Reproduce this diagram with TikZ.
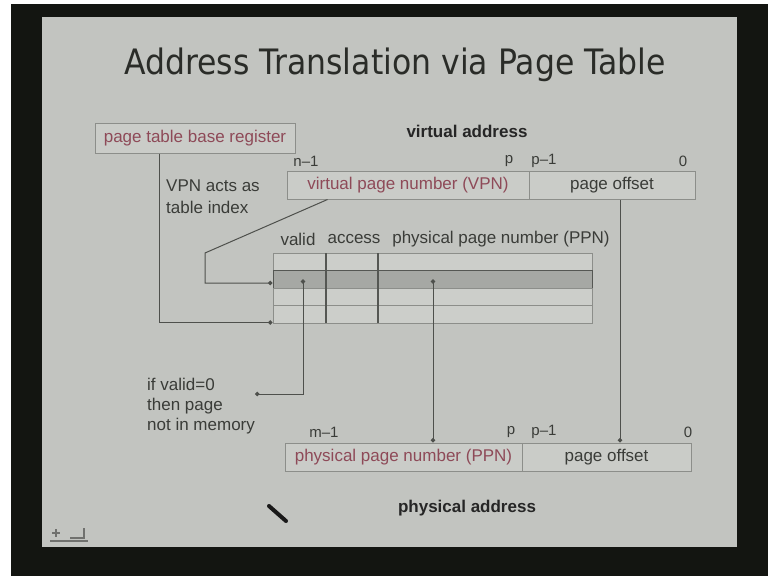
\documentclass[tikz,border=0pt]{standalone}
\usepackage{fontspec}
\setmainfont{Liberation Sans}
\newfontfamily\titlefont{DejaVu Sans}
\usetikzlibrary{arrows.meta,calc}

\definecolor{frame}{HTML}{131511}
\definecolor{slide}{HTML}{C2C4C0}
\definecolor{boxfill}{HTML}{CACCC8}
\definecolor{boxline}{HTML}{8C8E8A}
\definecolor{ink}{HTML}{3A3C38}
\definecolor{titleink}{HTML}{2A2C28}
\definecolor{redink}{HTML}{8E4A58}
\definecolor{rowfill}{HTML}{CCCECA}
\definecolor{rowdark}{HTML}{A6A8A4}
\definecolor{wire}{HTML}{4E504C}
\definecolor{colline}{HTML}{555753}

\begin{document}
\begin{tikzpicture}[x=1pt,y=-1pt,
  txt/.style={font=\fontsize{17}{20}\selectfont, text=ink, inner sep=0pt},
  boldtxt/.style={font=\bfseries\fontsize{17}{20}\selectfont, text=black!85, inner sep=0pt},
  fieldbox/.style={draw=boxline, fill=boxfill, line width=1pt, minimum height=28pt,
                   inner sep=0pt, font=\fontsize{17}{20}\selectfont},
  bitlabel/.style={font=\fontsize{15}{18}\selectfont, text=ink, inner sep=0pt},
  tablerow/.style={draw=boxline, fill=rowfill, line width=1pt, minimum width=319pt,
                   minimum height=17.5pt, inner sep=0pt},
  wireline/.style={draw=wire, line width=1pt},
  tip/.style={-{Circle[length=4.5pt]}},
  dottip/.style={{Circle[length=4.5pt]}-{Circle[length=4.5pt]}}
]
\useasboundingbox (0,0) rectangle (768,576);

% screen, dark frame and slide
\fill[white] (0,0) rectangle (768,576);
\fill[frame] (11,4) rectangle (768,576);
\fill[slide] (42,17) rectangle (737,547);

% title
\node[font=\titlefont\fontsize{35}{40}\selectfont, text=titleink, inner sep=0pt]
  (title) at (395,65) {\scalebox{0.9}[1]{Address Translation via Page Table}};

% page table base register
\node[fieldbox, minimum width=200pt, minimum height=30pt, text=redink]
  (ptbr) at (195,138) {page table base register};

% virtual address
\node[boldtxt] (vatitle) at (467,131) {virtual address};
\node[fieldbox, minimum width=242pt, text=redink] (vpn) at (408,185) {virtual page number (VPN)};
\node[fieldbox, minimum width=166pt, text=ink] (voff) at (612,185) {page offset};
\node[bitlabel] (vn1) at (306,161) {n\textendash 1};
\node[bitlabel] (vp)  at (509,161) {p};
\node[bitlabel] (vp1) at (544,161) {p\textendash 1};
\node[bitlabel] (v0)  at (683,161) {0};

\node[txt, anchor=west] (idx1) at (166,186) {VPN acts as};
\node[txt, anchor=west] (idx2) at (166,207) {table index};

% page table
\node[txt] (hvalid) at (298,239) {valid};
\node[txt] (hacc)   at (354,239) {access};
\node[txt] (hppn)   at (501,239) {physical page number (PPN)};

\node[tablerow] (r1) at (432.5,261.75) {};
\node[tablerow, fill=rowdark, draw=colline] (r2) at (432.5,279.25) {};
\node[tablerow] (r3) at (432.5,296.75) {};
\node[tablerow] (r4) at (432.5,314.25) {};
\draw[colline, line width=1.2pt] (326,253) -- (326,323);
\draw[colline, line width=1.2pt] (378,253) -- (378,323);

% physical address
\node[fieldbox, minimum width=237pt, text=redink] (ppn) at (403.5,457) {physical page number (PPN)};
\node[fieldbox, minimum width=169pt, text=ink] (poff) at (606.5,457) {page offset};
\node[bitlabel] (pm1) at (324,432) {m\textendash 1};
\node[bitlabel] (pp)  at (511,432) {p};
\node[bitlabel] (pp1) at (544,432) {p\textendash 1};
\node[bitlabel] (p0)  at (688,432) {0};
\node[boldtxt] (patitle) at (467,508) {physical address};

% note on the valid bit
\node[txt, anchor=north west, align=left, font=\fontsize{17}{20}\selectfont]
  (note) at (147,378) {if valid=0\\then page\\not in memory};

% connector end points
\coordinate (vdot)   at (303,279.25);
\coordinate (pdot)   at (433,279.25);
\coordinate (notept) at (255,394);
\coordinate (offx)   at (620,0);

% connectors
\draw[wireline, tip] ($(vpn.south west)+(41,0)$) -- (205,253) -- (205,283)
      -- ($(r2.west)+(0,3.75)$);
\draw[wireline, tip] ($(ptbr.south west)+(65,0)$) |- ($(r4.south west)+(0,-1)$);
\draw[wireline, dottip] (vdot) |- (notept);
\draw[wireline, dottip] (pdot) -- (pdot |- ppn.north);
\draw[wireline, tip] (voff.south -| offx) -- (poff.north -| offx);

% pen lying on the slide
\draw[black!90, line width=4pt, line cap=round] (269,506) -- (286,521);

% navigation icon in the corner
\draw[boxline!80!black, line width=1.2pt] (50,541) -- (88,541);
\draw[boxline!80!black, line width=1.2pt] (52,533) -- (60,533) (56,529) -- (56,537);
\draw[boxline!80!black, line width=1.2pt] (70,538) -- (84,538) -- (84,528);
\end{tikzpicture}
\end{document}
